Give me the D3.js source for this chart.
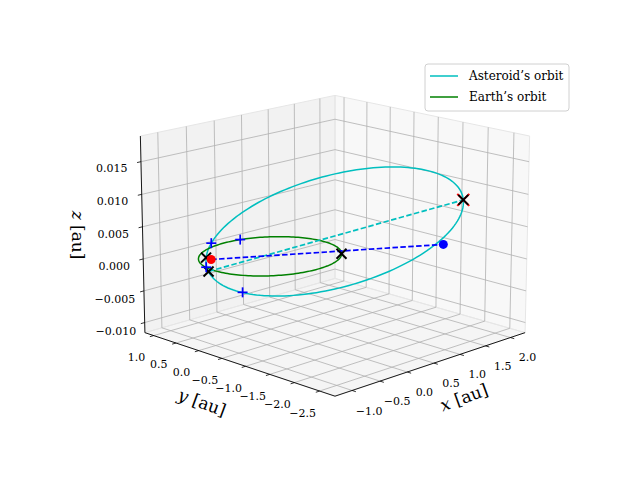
<!DOCTYPE html>
<html><head><meta charset="utf-8">
<script src="https://cdn.jsdelivr.net/npm/d3@7"></script>
<style>body{margin:0;background:#fff}</style></head>
<body><svg id="c" width="640" height="480"></svg>
<script>
// ---- data ----
const xLim = [-1.3, 2.3], yLim = [-2.8, 1.2], zLim = [-0.0116, 0.0189];
const xTicks = [-1.0, -0.5, 0.0, 0.5, 1.0, 1.5, 2.0];
const yTicks = [-2.5, -2.0, -1.5, -1.0, -0.5, 0.0, 0.5, 1.0];
const zTicks = [-0.010, -0.005, 0.000, 0.005, 0.010, 0.015];
// asteroid orbit ellipse: centre and two semi-axis vectors [x,y,z] (au)
const astCenter = [0.674, -0.607, 0.0039];
const astAxisA = [1.340, -1.206, 0.0040];
const astAxisB = [1.044, 1.159, 0.0044];
const earthRadius = 1.0;
// markers [x,y,z]
const blackX = [[0.74,-0.67,0],[-0.666,0.599,0],[-0.879,0.283,-0.001],[2.014,-1.813,0.0079]];
const redX = [[2.014,-1.813,0.0079]];
const redDot = [[-0.68,0.47,0]];
const blueDot = [[1.81,-1.63,0.0010]];
const bluePlus = [[-0.373,0.843,0.0011],[0.26,0.97,0],[-1.008,-0.602,-0.0020],[-0.97,0.22,0]];
const cyanDash = [[-0.879,0.283,-0.001],[2.014,-1.813,0.0079]];
const blueDash = [[-0.68,0.47,0],[1.81,-1.63,0.0010]];

// ---- projection ----
const elev = 15.5, azim = -135, D = 17, S = 136, cx = 335, cy = 235.5;
const er = elev*Math.PI/180, ar = azim*Math.PI/180;
const xs = d3.scaleLinear().domain(xLim).range([-1,1]);
const ys = d3.scaleLinear().domain(yLim).range([-1,1]);
const zs = d3.scaleLinear().domain(zLim).range([-0.75,0.75]);
function P(p){
  const x=xs(p[0]), y=ys(p[1]), z=zs(p[2]);
  const u = -Math.sin(ar)*x + Math.cos(ar)*y;
  const up = -Math.sin(er)*Math.cos(ar)*x - Math.sin(er)*Math.sin(ar)*y + Math.cos(er)*z;
  const d = Math.cos(er)*Math.cos(ar)*x + Math.cos(er)*Math.sin(ar)*y + Math.sin(er)*z;
  const f = D/(D-d);
  return [cx + S*u*f, cy - S*up*f];
}
const svg = d3.select("#c");
const line = d3.line();
const [x0,x1]=xLim,[y0,y1]=yLim,[z0,z1]=zLim;
// panes
const panes = [
  {pts:[[x1,y0,z0],[x1,y1,z0],[x1,y1,z1],[x1,y0,z1]], fill:"#f2f2f2"},
  {pts:[[x0,y1,z0],[x1,y1,z0],[x1,y1,z1],[x0,y1,z1]], fill:"#e6e6e6"},
  {pts:[[x0,y0,z0],[x1,y0,z0],[x1,y1,z0],[x0,y1,z0]], fill:"#ececec"}];
panes.forEach(p=>svg.append("path").attr("d",line(p.pts.map(P))+"Z").attr("fill",p.fill).attr("fill-opacity",0.5).attr("stroke","#e6e6e6"));
const gcol="#b0b0b0", gw=0.8;
function seg(a,b,col,w){svg.append("path").attr("d",line([P(a),P(b)])).attr("stroke",col).attr("stroke-width",w).attr("fill","none");}
xTicks.forEach(t=>{seg([t,y1,z0],[t,y1,z1],gcol,gw);seg([t,y0,z0],[t,y1,z0],gcol,gw);});
yTicks.forEach(t=>{seg([x1,t,z0],[x1,t,z1],gcol,gw);seg([x0,t,z0],[x1,t,z0],gcol,gw);});
zTicks.forEach(t=>{seg([x0,y1,t],[x1,y1,t],gcol,gw);seg([x1,y0,t],[x1,y1,t],gcol,gw);});
// axes
const font="'DejaVu Serif','Liberation Serif',serif";
seg([x0,y0,z0],[x1,y0,z0],"#000",0.9);
seg([x0,y0,z0],[x0,y1,z0],"#000",0.9);
seg([x0,y1,z0],[x0,y1,z1],"#000",0.9);
function fmt(v,n){return (v<0?"\u2212":"")+Math.abs(v).toFixed(n);}
function tickAt(p,dir,lab,loff){
  const a=P(p), b=P(dir);
  const dx=b[0]-a[0], dy=b[1]-a[1], L=Math.hypot(dx,dy);
  svg.append("line").attr("x1",a[0]).attr("y1",a[1]).attr("x2",a[0]+dx/L*4).attr("y2",a[1]+dy/L*4).attr("stroke","#000").attr("stroke-width",0.8);
  svg.append("text").attr("x",a[0]+dx/L*loff[0]+loff[2]).attr("y",a[1]+dy/L*loff[0]+loff[1]).attr("text-anchor","middle")
    .attr("font-family",font).attr("font-size",11).text(lab);
}
xTicks.forEach(t=>tickAt([t,y0,z0],[t,y0-0.3,z0],fmt(t,1),[20,18,-2]));
yTicks.forEach(t=>tickAt([x0,t,z0],[x0-0.3,t,z0],fmt(t,1),[22,19,4]));
zTicks.forEach(t=>tickAt([x0,y1,t],[x0-0.3,y1,t],fmt(t,3),[30,4,0]));
// axis labels
function alab(pos,txt,rot){
  const t=svg.append("text").attr("transform",`translate(${pos[0]},${pos[1]}) rotate(${rot})`).attr("text-anchor","middle")
   .attr("font-family",font).attr("font-size",17);
  t.append("tspan").attr("font-style","italic").text(txt);t.append("tspan").text(" [au]");
}
alab([466,403],"x",-20);alab([200,408],"y",20);alab([72,235],"z",90);
// orbits
const rad=Math.PI/180;
const tt = d3.range(0,361,2);
const ast = tt.map(v=>{const c=Math.cos(v*rad), s=Math.sin(v*rad);
  return [0,1,2].map(k=>astCenter[k]+astAxisA[k]*c+astAxisB[k]*s);});
const earth = tt.map(v=>[earthRadius*Math.cos(v*rad),earthRadius*Math.sin(v*rad),0]);
svg.append("path").attr("d",line(ast.map(P))).attr("fill","none").attr("stroke","#00bfbf").attr("stroke-width",1.5);
svg.append("path").attr("d",line(earth.map(P))).attr("fill","none").attr("stroke","#008000").attr("stroke-width",1.5);
svg.append("path").attr("d",line(cyanDash.map(P))).attr("fill","none").attr("stroke","#00bfbf").attr("stroke-width",1.7).attr("stroke-dasharray","5.5,2.4");
svg.append("path").attr("d",line(blueDash.map(P))).attr("fill","none").attr("stroke","#0000ff").attr("stroke-width",1.7).attr("stroke-dasharray","5.5,2.4");
function cross(p,col,s,w,diag){const q=P(p);const k=s;
  const pts=diag?[[[-k,-k],[k,k]],[[-k,k],[k,-k]]]:[[[-k,0],[k,0]],[[0,-k],[0,k]]];
  pts.forEach(l=>svg.append("line").attr("x1",q[0]+l[0][0]).attr("y1",q[1]+l[0][1]).attr("x2",q[0]+l[1][0]).attr("y2",q[1]+l[1][1]).attr("stroke",col).attr("stroke-width",w));}
redX.forEach(p=>cross(p,"red",6,2,true));
blueDot.forEach(p=>{const q=P(p);svg.append("circle").attr("cx",q[0]).attr("cy",q[1]).attr("r",4.5).attr("fill","blue");});
blackX.forEach(p=>cross(p,"#000",5,2,true));
redDot.forEach(p=>{const q=P(p);svg.append("circle").attr("cx",q[0]).attr("cy",q[1]).attr("r",4.5).attr("fill","red");});
bluePlus.forEach(p=>cross(p,"blue",5,1.7,false));
// legend
const lg=svg.append("g").attr("transform","translate(425,64)");
lg.append("rect").attr("width",144).attr("height",47).attr("rx",3).attr("fill","#fff").attr("fill-opacity",0.8).attr("stroke","#d0d0d0");
[["Asteroid\u2019s orbit","#00bfbf"],["Earth\u2019s orbit","#008000"]].forEach((d,i)=>{
  lg.append("line").attr("x1",5).attr("x2",33).attr("y1",12+i*21).attr("y2",12+i*21).attr("stroke",d[1]).attr("stroke-width",1.5);
  lg.append("text").attr("x",44).attr("y",16+i*21).attr("font-family",font).attr("font-size",12).text(d[0]);});
</script></body></html>
